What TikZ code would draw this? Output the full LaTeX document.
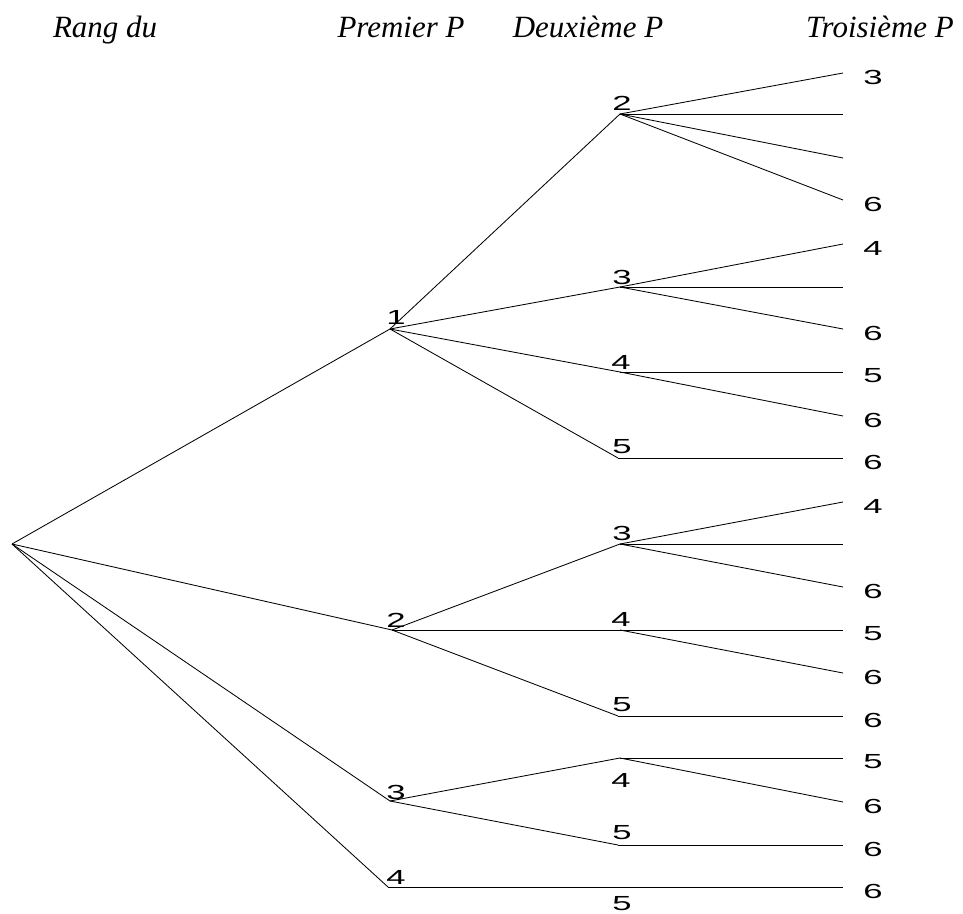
\documentclass[tikz,border=0pt]{standalone}
\usepackage{fontspec}
\setmainfont{Liberation Serif}
\newfontfamily\digitfont[FakeStretch=1.7]{Liberation Sans}

\tikzset{
  num/.style={font=\digitfont\fontsize{14.5}{14.5}\selectfont, inner sep=0pt},
  head/.style={font=\fontsize{22}{22}\selectfont\itshape, anchor=base, inner sep=0pt},
}

\begin{document}
\begin{tikzpicture}[x=0.025cm, y=-0.025cm, line width=.6pt]
\useasboundingbox (0,0) rectangle (963,914);

% headings
\node[head] (h0) at (105,37) {Rang du};
\node[head] (h1) at (401,37) {Premier P};
\node[head] (h2) at (588,37) {Deuxième P};
\node[head] (h3) at (880,37) {Troisième P};

% root and first P
\coordinate (r) at (12,544);
\coordinate (p1) at (390,329);
\coordinate (p2) at (392,630);
\coordinate (p3) at (390,801);
\coordinate (p4) at (388,887);

\draw (r) -- (p1);
\draw (r) -- (p2);
\draw (r) -- (p3);
\draw (r) -- (p4);

\node[num] (n1) at (396,317) {1};
\node[num] (n2) at (396,620) {2};
\node[num] (n3) at (396,792) {3};
\node[num] (n4) at (396,877) {4};

% second P
\coordinate (q12) at (620,114);
\coordinate (q13) at (620,287);
\coordinate (q14) at (620,372);
\coordinate (q15) at (618,458);
\coordinate (q23) at (620,544);
\coordinate (q24) at (620,630);
\coordinate (q25) at (618,716);
\coordinate (q34) at (620,758);
\coordinate (q35) at (618,845);
\coordinate (q45) at (620,887);

\draw (p1) -- (q12);
\draw (p1) -- (q13);
\draw (p1) -- (q14);
\draw (p1) -- (q15);
\draw (p2) -- (q23);
\draw (p2) -- (q24);
\draw (p2) -- (q25);
\draw (p3) -- (q34);
\draw (p3) -- (q35);
\draw (p4) -- (q45);

\node[num] (m12) at (622,103) {2};
\node[num] (m13) at (622,277) {3};
\node[num] (m14) at (621,362) {4};
\node[num] (m15) at (622,447) {5};
\node[num] (m23) at (622,533) {3};
\node[num] (m24) at (621,619) {4};
\node[num] (m25) at (622,705) {5};
\node[num] (m34) at (621,780) {4};
\node[num] (m35) at (622,833) {5};
\node[num] (m45) at (622,904) {5};

% third P
\foreach \p/\y/\t [count=\i] in {q12/73/3, q12/114/{}, q12/158/{}, q12/200/6,
    q13/244/4, q13/287/{}, q13/329/6,
    q14/372/5, q14/416/6,
    q15/458/6,
    q23/502/4, q23/544/{}, q23/587/6,
    q24/630/5, q24/673/6,
    q25/716/6,
    q34/758/5, q34/802/6,
    q35/845/6,
    q45/887/6}
{
  \coordinate (l\i) at (843,\y);
  \draw (\p) -- (l\i);
  \node[num] (t\i) at (873,\y+4) {\t};
}
\end{tikzpicture}
\end{document}
